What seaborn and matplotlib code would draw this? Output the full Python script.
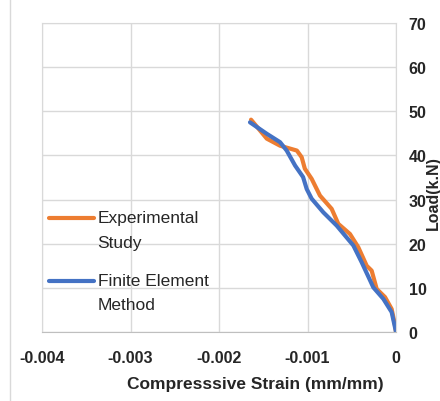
import pandas as pd
import matplotlib
matplotlib.use('Agg')
import matplotlib.pyplot as plt
import seaborn as sns
from matplotlib.lines import Line2D
from matplotlib.legend_handler import HandlerLine2D

# Experimental study (strain, load)
exp_strain = [0.0, -0.00001, -0.000049, -0.000124, -0.000218, -0.000275, -0.000331, -0.000426,
              -0.00052, -0.000652, -0.000727, -0.000859, -0.000953, -0.00103, -0.001066,
              -0.00112, -0.00131, -0.00146, -0.001638]
exp_load = [0.0, 1.4, 5.2, 7.9, 9.75, 13.9, 15.0, 19.2, 22.2, 24.5, 27.9, 30.9, 34.7, 37.0,
            39.6, 41.1, 42.2, 43.8, 48.1]

# Finite element method
fem_strain = [0.0, -0.000049, -0.000143, -0.000256, -0.000388, -0.000482, -0.00067, -0.000821,
              -0.000953, -0.001009, -0.00105, -0.00114, -0.001235, -0.00131, -0.00146, -0.00165]
fem_load = [0.0, 4.5, 7.5, 10.1, 15.8, 19.6, 24.1, 27.1, 30.2, 32.4, 35.1, 37.7, 41.1, 43.0,
            44.9, 47.5]

x_ticks = [-0.004, -0.003, -0.002, -0.001, 0]
x_tick_labels = ['-0.004', '-0.003', '-0.002', '-0.001', '0']
y_ticks = [0, 10, 20, 30, 40, 50, 60, 70]

data = pd.concat([
    pd.DataFrame({'strain': exp_strain, 'load': exp_load, 'series': 'Experimental\nStudy'}),
    pd.DataFrame({'strain': fem_strain, 'load': fem_load, 'series': 'Finite Element\nMethod'}),
], ignore_index=True)


class FirstLineHandler(HandlerLine2D):
    # put the legend line next to the first text line, like Excel does
    def create_artists(self, legend, orig_handle, xdescent, ydescent, width, height,
                       fontsize, trans):
        artists = super().create_artists(legend, orig_handle, xdescent, ydescent, width,
                                         height, fontsize, trans)
        for a in artists:
            a.set_ydata([y + 8.5 for y in a.get_ydata()])
        return artists


sns.set_style('white')
plt.rcParams['font.family'] = ['Liberation Sans', 'DejaVu Sans']

fig = plt.figure(figsize=(4.4, 4.02), dpi=100)
ax = fig.add_axes([42 / 440, 69 / 402, 354 / 440, 309 / 402])

sns.lineplot(data=data, x='strain', y='load', hue='series', sort=False, estimator=None,
             palette=['#ED7D31', '#4472C4'], lw=3, ax=ax)

ax.set_xlim(-0.004, 0)
ax.set_ylim(0, 70)
ax.set_xticks(x_ticks)
ax.set_xticklabels(x_tick_labels)
ax.set_yticks(y_ticks)
ax.yaxis.tick_right()
ax.grid(True, color='#d9d9d9', lw=1)
for s in ax.spines.values():
    s.set_color('#d9d9d9')
ax.spines['bottom'].set_color('#bfbfbf')
ax.tick_params(length=0, labelsize=11.5)
ax.tick_params(axis='x', pad=13)
ax.tick_params(axis='y', pad=9)
for lbl in ax.get_xticklabels() + ax.get_yticklabels():
    lbl.set_fontweight('bold')

ax.set_xlabel('')
ax.set_ylabel('')
fig.text(255 / 440, 1 - 385 / 402, 'Compresssive Strain (mm/mm)', fontsize=12.5,
         fontweight='bold', ha='center', va='center')
fig.text(433 / 440, 1 - 193 / 402, 'Load(k.N)', fontsize=11.5, fontweight='bold',
         rotation=90, ha='center', va='center')

handles, labels = ax.get_legend_handles_labels()
leg = ax.legend(handles, labels, loc='upper left', bbox_to_anchor=(0.0, 0.417),
                frameon=False, fontsize=12.5, handlelength=2.6, handletextpad=0.2,
                labelspacing=1.33, borderaxespad=0,
                handler_map={Line2D: FirstLineHandler()})
for t in leg.get_texts():
    t.set_linespacing(1.8)

fig.add_artist(Line2D([10 / 440, 10 / 440], [0, 1], color='#d9d9d9', lw=1))

plt.savefig('out.png', dpi=100)
